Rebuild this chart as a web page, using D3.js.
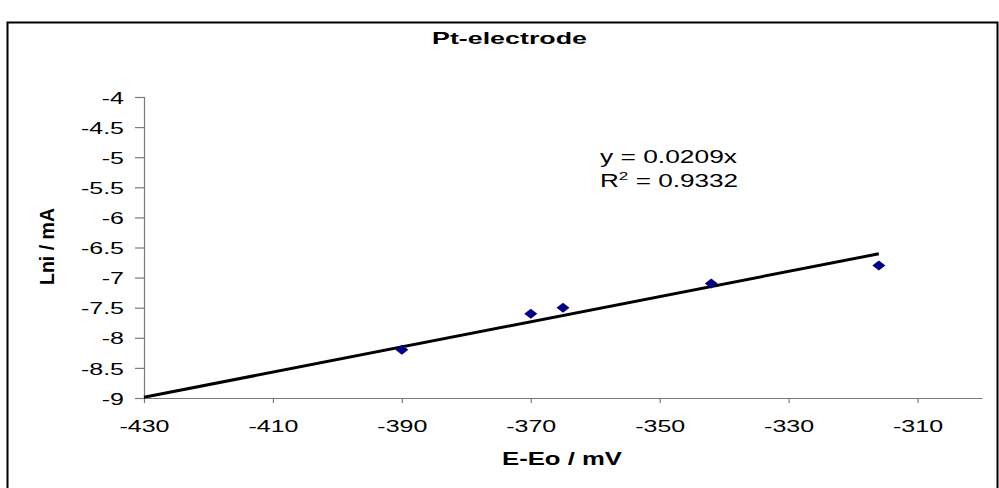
<!DOCTYPE html>
<html><head><meta charset="utf-8">
<script src="https://cdn.jsdelivr.net/npm/d3@7"></script>
<style>body{margin:0;background:#fff}svg{display:block}text{font-family:"Liberation Sans",Arial,sans-serif}</style>
</head><body>
<script>
const xValues = [-390, -370, -365, -342, -316];
const yValues = [-8.2, -7.6, -7.5, -7.1, -6.8];
const xTicks = [-430, -410, -390, -370, -350, -330, -310];
const yTicks = [-4, -4.5, -5, -5.5, -6, -6.5, -7, -7.5, -8, -8.5, -9];
const slope = 0.0209;
const titleText = "Pt-electrode";
const xTitle = "E-Eo / mV";
const yTitle = "Lni / mA";
const eqText = "y = 0.0209x";
const r2Value = "0.9332";

const W = 999, H = 488, S = 1.47;
const svg = d3.select("body").append("svg").attr("width", W).attr("height", H);

svg.append("rect").attr("x", 7.5).attr("y", 22.5).attr("width", 990).attr("height", 480)
  .attr("fill", "#fff").attr("stroke", "#000").attr("stroke-width", 2);

const x = d3.scaleLinear().domain([-430, -300]).range([144, 982]);
const y = d3.scaleLinear().domain([-9, -4]).range([398, 97]);

const axisColor = "#7a7a7a";
// Y axis
const gy = svg.append("g").attr("transform", "translate(144,0)")
  .call(d3.axisLeft(y).tickValues(yTicks).tickSize(9).tickPadding(0).tickFormat(d => String(d)));
gy.select(".domain").attr("stroke", axisColor).attr("stroke-width", 1.2);
gy.selectAll(".tick line").attr("stroke", axisColor).attr("stroke-width", 1.2);
gy.selectAll(".tick text").attr("font-size", 17).attr("fill", "#000")
  .attr("x", -20 / S).attr("dy", "0.36em").attr("transform", `scale(${S},1)`);

// X axis
const gx = svg.append("g").attr("transform", "translate(0,398)")
  .call(d3.axisBottom(x).tickValues(xTicks).tickSize(5).tickSizeOuter(0).tickFormat(d => String(d)));
gx.select(".domain").attr("stroke", axisColor).attr("stroke-width", 1.2);
gx.selectAll(".tick line").attr("stroke", axisColor).attr("stroke-width", 1.2);
gx.selectAll(".tick text").attr("font-size", 17).attr("fill", "#000")
  .attr("y", 34).attr("dy", 0).attr("transform", `scale(${S},1)`);

// Trend line
const tx = [-430, d3.max(xValues)];
svg.append("path")
  .attr("d", d3.line().x(d => x(d)).y(d => y(slope * d))(tx))
  .attr("stroke", "#000").attr("stroke-width", 3).attr("fill", "none");

// Points
const sym = d3.symbol(d3.symbolSquare, 50);
svg.append("g").selectAll("path").data(xValues.map((v, i) => [v, yValues[i]])).join("path")
  .attr("d", sym)
  .attr("transform", d => `translate(${x(d[0])},${y(d[1])}) scale(1.3,1) rotate(45)`)
  .attr("fill", "#000080");

// Title
svg.append("text").attr("x", 432).attr("y", 44).attr("font-size", 17).attr("font-weight", "bold")
  .attr("textLength", 155).attr("lengthAdjust", "spacingAndGlyphs").text(titleText);

// Axis titles
svg.append("text").attr("x", 502).attr("y", 465).attr("font-size", 18).attr("font-weight", "bold")
  .attr("textLength", 120).attr("lengthAdjust", "spacingAndGlyphs").text(xTitle);
svg.append("text").attr("transform", "translate(54,285) rotate(-90)").attr("font-size", 20).attr("font-weight", "bold")
  .attr("textLength", 77).attr("lengthAdjust", "spacingAndGlyphs").text(yTitle);

// Equation
svg.append("text").attr("x", 600).attr("y", 163).attr("font-size", 17.5)
  .attr("textLength", 137).attr("lengthAdjust", "spacingAndGlyphs").text(eqText);
const r2 = svg.append("text").attr("x", 600).attr("y", 187).attr("font-size", 17.5)
  .attr("textLength", 138).attr("lengthAdjust", "spacingAndGlyphs");
r2.append("tspan").text("R");
r2.append("tspan").attr("font-size", 11.5).attr("dy", -7).text("2");
r2.append("tspan").attr("dy", 7).text(" = " + r2Value);
</script>
</body></html>
